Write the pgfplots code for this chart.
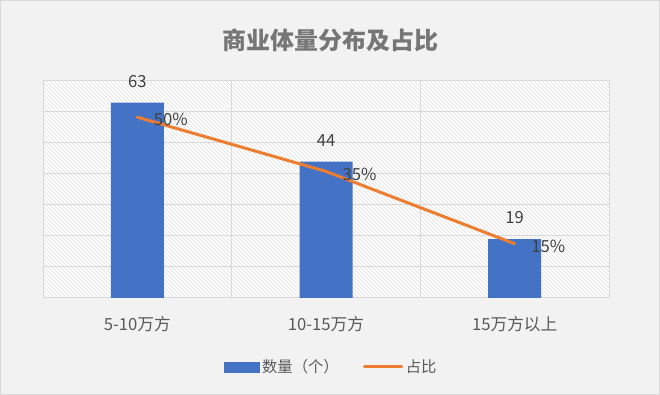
\documentclass[border=0pt]{standalone}
\usepackage{pgfplots}
\pgfplotsset{compat=1.18}
\pgfplotsset{/pgf/number format/assume math mode=true}
\usepackage{fontspec}
\setmainfont{Noto Sans CJK SC}
\usetikzlibrary{patterns}
\definecolor{barblue}{HTML}{4472C4}
\definecolor{lineorange}{HTML}{ED7D31}
\definecolor{bgc}{HTML}{F2F2F2}
\definecolor{txt}{HTML}{595959}
\definecolor{lbl}{HTML}{404040}
\definecolor{gridc}{HTML}{D9D9D9}
\definecolor{titlec}{HTML}{767676}
\begin{document}
\begin{tikzpicture}
\fill[bgc] (0pt,0pt) rectangle (495pt,296.25pt);
\draw[gridc, line width=0.75pt] (0.375pt,0.375pt) rectangle (494.625pt,295.875pt);
\node[font=\fontsize{18}{21}\selectfont\bfseries, text=titlec] at (247.5pt,266.25pt) {商业体量分布及占比};
\begin{axis}[
  at={(32.25pt,72.75pt)}, anchor=south west,
  scale only axis, width=424.5pt, height=162.75pt,
  xmin=-0.5, xmax=2.5, ymin=0, ymax=70,
  xtick={0,1,2}, xticklabels={5-10万方,10-15万方,15万方以上},
  minor xtick={0.5,1.5}, xminorgrids,
  ytick={10,20,...,60}, ymajorgrids, yticklabels={},
  major tick length=0pt, minor tick length=0pt,
  grid style={gridc, line width=0.75pt},
  minor grid style={gridc, line width=0.75pt},
  axis line style={gridc, line width=0.75pt},
  axis background/.style={fill=white, postaction={pattern=north west lines, pattern color=black!13}},
  xticklabel style={font=\fontsize{12.5}{14}\selectfont, text=txt, yshift=-10pt},
]
\addplot[ybar, bar width=39.75pt, fill=barblue, draw=none,
  nodes near coords,
  every node near coord/.append style={font=\fontsize{12.5}{14}\selectfont, text=lbl, yshift=8pt}]
  coordinates {(0,63) (1,44) (2,19)};
\end{axis}
\begin{axis}[
  at={(32.25pt,72.75pt)}, anchor=south west,
  scale only axis, width=424.5pt, height=162.75pt,
  xmin=-0.5, xmax=2.5, ymin=0, ymax=60,
  hide axis,
  legend style={at={(0.51,-0.318)}, anchor=center, draw=none, fill=none,
    font=\fontsize{11.5}{13}\selectfont, text=txt,
    /tikz/every even column/.append style={column sep=16pt}},
  legend columns=2,
]
\addlegendimage{legend image code/.code={\fill[barblue] (0pt,-3.75pt) rectangle (26pt,3.75pt);}}
\addlegendentry{数量（个）}
\addplot[lineorange, line width=2.25pt, line cap=round,
  nodes near coords={\pgfmathprintnumber{\pgfplotspointmeta}\%},
  every node near coord/.append style={anchor=west, xshift=8pt, yshift=-2pt, font=\fontsize{12.5}{14}\selectfont, text=lbl},
  legend image code/.code={\draw[lineorange, line width=2.25pt, line cap=round] (0pt,0pt) -- (28pt,0pt);}]
  coordinates {(0,50) (1,35) (2,15)};
\addlegendentry{占比}
\end{axis}
\end{tikzpicture}
\end{document}
